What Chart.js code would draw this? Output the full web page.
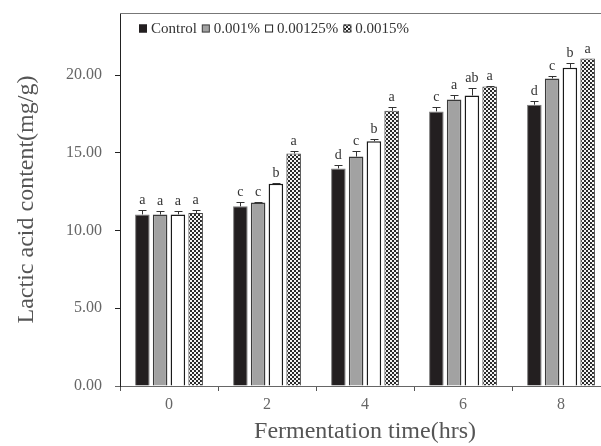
<!DOCTYPE html>
<html><head><meta charset="utf-8">
<script src="https://cdn.jsdelivr.net/npm/chart.js@4"></script>
<style>html,body{margin:0;padding:0;background:#fff;overflow:hidden;}#wrap{width:620px;height:446px;}</style>
</head><body><div id="wrap"><canvas id="c" width="620" height="446"></canvas></div>
<script>
const categories = ['0', '2', '4', '6', '8'];
const seriesLabels = ['Control', '0.001%', '0.00125%', '0.0015%'];
const control = [11.04, 11.56, 14.00, 17.67, 18.10];
const pct0010 = [11.03, 11.81, 14.76, 18.44, 19.79];
const pct00125 = [11.04, 13.01, 15.75, 18.69, 20.47];
const pct0015 = [11.13, 14.96, 17.71, 19.27, 21.07];
const errControl = [0.30, 0.26, 0.24, 0.30, 0.21];
const err0010 = [0.26, 0.05, 0.35, 0.26, 0.15];
const err00125 = [0.23, 0.05, 0.13, 0.51, 0.30];
const err0015 = [0.20, 0.15, 0.26, 0.06, 0.00];
const letControl = ['a', 'c', 'd', 'c', 'd'];
const let0010 = ['a', 'c', 'c', 'a', 'c'];
const let00125 = ['a', 'b', 'b', 'ab', 'b'];
const let0015 = ['a', 'a', 'a', 'a', 'a'];
const yTicks = [0, 5, 10, 15, 20];

const SERIF = 'Liberation Serif';

const checker = document.getElementById('c').getContext('2d').createPattern((function(){
  const c = document.createElement('canvas');
  c.width = 4; c.height = 4;
  const g = c.getContext('2d');
  g.fillStyle = '#f4f4f4'; g.fillRect(0, 0, 4, 4);
  g.fillStyle = '#2a2a2a';
  g.fillRect(0, 0, 2, 2); g.fillRect(2, 2, 2, 2);
  return c;
})(), 'repeat');

const decor = {
  id: 'decor',
  afterDatasetsDraw(chart) {
    const ctx = chart.ctx, ys = chart.scales.y;
    ctx.save();
    chart.data.datasets.forEach((ds, di) => {
      const meta = chart.getDatasetMeta(di);
      meta.data.forEach((bar, i) => {
        const v = ds.data[i], e = ds.errors[i];
        const yTop = ys.getPixelForValue(v + e);
        if (e > 0) {
          ctx.strokeStyle = '#333'; ctx.lineWidth = 1;
          const x = Math.round(bar.x) + 0.5;
          ctx.beginPath();
          ctx.moveTo(x, bar.y); ctx.lineTo(x, Math.round(yTop) + 0.5);
          ctx.moveTo(x - 4, Math.round(yTop) + 0.5); ctx.lineTo(x + 4, Math.round(yTop) + 0.5);
          ctx.stroke();
        }
        ctx.fillStyle = '#333';
        ctx.font = '14px "' + SERIF + '"';
        ctx.textAlign = 'center'; ctx.textBaseline = 'alphabetic';
        ctx.fillText(ds.letters[i], bar.x, yTop - 6);
      });
    });
    ctx.restore();
  },
  afterDraw(chart) {
    const ctx = chart.ctx, a = chart.chartArea;
    ctx.save();
    ctx.strokeStyle = '#777'; ctx.lineWidth = 1;
    ctx.beginPath();
    ctx.moveTo(a.left, Math.round(a.top) + 0.5); ctx.lineTo(a.right, Math.round(a.top) + 0.5);
    ctx.moveTo(a.right - 0.5, a.top); ctx.lineTo(a.right - 0.5, a.bottom);
    ctx.stroke();
    ctx.strokeStyle = '#666';
    ctx.beginPath();
    ctx.moveTo(a.left - 5, Math.round(a.bottom) + 0.5); ctx.lineTo(a.left, Math.round(a.bottom) + 0.5);
    ctx.stroke();
    let x = a.left + 19;
    const yc = a.top + 15.5;
    ctx.font = '15px "' + SERIF + '"';
    ctx.textBaseline = 'middle'; ctx.textAlign = 'left';
    chart.data.datasets.forEach(ds => {
      ctx.fillStyle = ds.backgroundColor;
      ctx.fillRect(x, yc - 4, 8, 8);
      ctx.strokeStyle = ds.legendBorder; ctx.lineWidth = 1;
      ctx.strokeRect(x + 0.5, yc - 3.5, 7, 7);
      ctx.fillStyle = '#333';
      ctx.fillText(ds.label, x + 12, yc + 0.5);
      x += 12 + ctx.measureText(ds.label).width + 5;
    });
    ctx.restore();
  }
};

new Chart(document.getElementById('c'), {
  type: 'bar',
  data: {
    labels: categories,
    datasets: [
      { label: seriesLabels[0], data: control, errors: errControl, letters: letControl,
        backgroundColor: '#231f20', borderColor: '#7a7a7a', borderWidth: 1, legendBorder: '#231f20' },
      { label: seriesLabels[1], data: pct0010, errors: err0010, letters: let0010,
        backgroundColor: '#a2a2a2', borderColor: '#3a3a3a', borderWidth: 1.5, legendBorder: '#444' },
      { label: seriesLabels[2], data: pct00125, errors: err00125, letters: let00125,
        backgroundColor: '#ffffff', borderColor: '#1a1a1a', borderWidth: 1.5, legendBorder: '#222' },
      { label: seriesLabels[3], data: pct0015, errors: err0015, letters: let0015,
        backgroundColor: checker, borderColor: '#444', borderWidth: 1, legendBorder: '#444' }
    ]
  },
  options: {
    responsive: false,
    animation: false,
    devicePixelRatio: 1,
    layout: { padding: { top: 13, right: 10, left: 0, bottom: 0 } },
    datasets: { bar: { categoryPercentage: 0.725, barPercentage: 0.82 } },
    plugins: { legend: { display: false }, tooltip: { enabled: false } },
    scales: {
      x: {
        offset: true,
        grid: { offset: true, drawOnChartArea: false, tickLength: 5, color: '#555' },
        border: { color: '#666', width: 1 },
        ticks: { font: { family: SERIF, size: 16 }, color: '#666', padding: 4 },
        title: { display: true, text: 'Fermentation time(hrs)', font: { family: SERIF, size: 24 }, color: '#555', padding: { top: 0, bottom: 0 } },
        afterFit(s) { s.height = 60; s.paddingLeft = 0; s.paddingRight = 0; }
      },
      y: {
        min: 0, max: 24,
        afterBuildTicks(s) { s.ticks = yTicks.map(v => ({ value: v })); },
        grid: { drawOnChartArea: false, tickLength: 5, color: '#222' },
        border: { color: '#222', width: 1 },
        ticks: { font: { family: SERIF, size: 16 }, color: '#666', padding: 13, callback: v => Number(v).toFixed(2) },
        title: { display: true, text: 'Lactic acid content(mg/g)', font: { family: SERIF, size: 24 }, color: '#555', padding: { top: 12, bottom: 0 } },
        afterFit(s) { s.width = 120; s.paddingTop = 0; s.paddingBottom = 0; }
      }
    }
  },
  plugins: [decor]
});
</script></body></html>
